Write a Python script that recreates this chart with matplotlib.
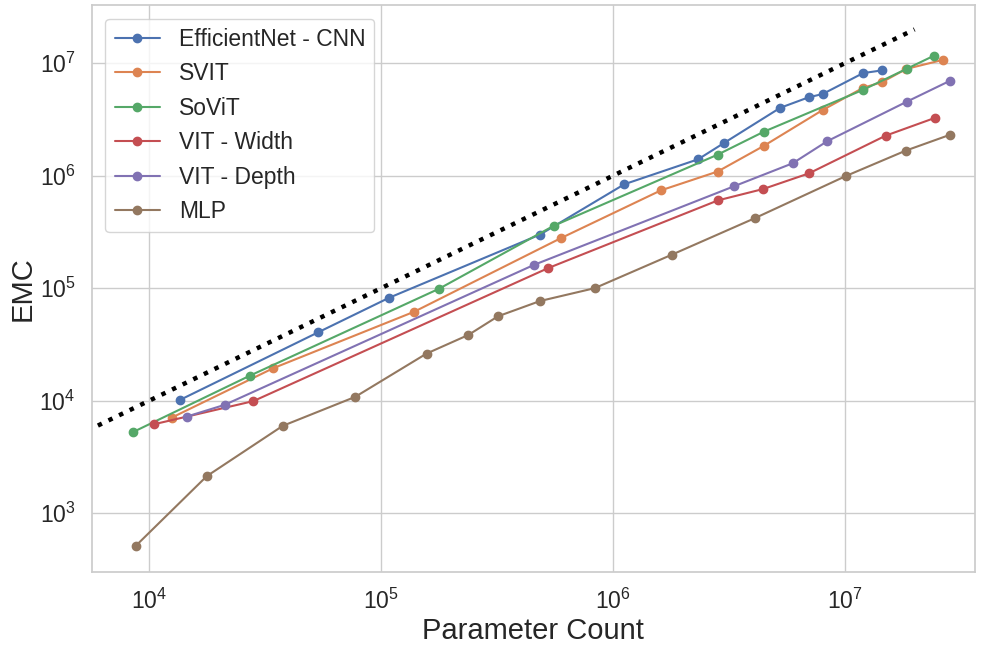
import numpy as np
import matplotlib
matplotlib.use("Agg")
import matplotlib.pyplot as plt
import seaborn as sns

# values (log-log)
effnet_x = [1.35e4, 5.35e4, 1.08e5, 4.85e5, 1.12e6, 2.33e6, 3.02e6, 5.27e6, 6.98e6, 8.03e6, 1.20e7, 1.45e7]
effnet_y = [1.01e4, 4.05e4, 8.2e4, 3.0e5, 8.4e5, 1.40e6, 1.96e6, 4.02e6, 4.98e6, 5.33e6, 8.18e6, 8.65e6]

svit_x = [1.25e4, 3.42e4, 1.39e5, 5.95e5, 1.61e6, 2.83e6, 4.47e6, 8.03e6, 1.20e7, 1.45e7, 1.84e7, 2.64e7]
svit_y = [7.06e3, 1.94e4, 6.18e4, 2.78e5, 7.41e5, 1.09e6, 1.84e6, 3.84e6, 6.05e6, 6.80e6, 8.9e6, 1.07e7]

sovit_x = [8.47e3, 2.72e4, 1.78e5, 5.57e5, 2.83e6, 4.47e6, 1.20e7, 1.85e7, 2.43e7]
sovit_y = [5.23e3, 1.67e4, 9.9e4, 3.6e5, 1.54e6, 2.46e6, 5.81e6, 8.93e6, 1.17e7]

vitw_x = [1.05e4, 2.81e4, 5.26e5, 2.84e6, 4.45e6, 7.01e6, 1.50e7, 2.44e7]
vitw_y = [6.17e3, 9.9e3, 1.51e5, 6.04e5, 7.62e5, 1.05e6, 2.27e6, 3.26e6]

vitd_x = [1.45e4, 2.11e4, 4.56e5, 3.33e6, 5.96e6, 8.41e6, 1.85e7, 2.84e7]
vitd_y = [7.21e3, 9.16e3, 1.61e5, 8.06e5, 1.29e6, 2.03e6, 4.55e6, 6.98e6]

mlp_x = [8.73e3, 1.77e4, 3.76e4, 7.73e4, 1.57e5, 2.38e5, 3.19e5, 4.85e5, 8.34e5, 1.80e6, 4.08e6, 1.01e7, 1.83e7, 2.84e7]
mlp_y = [5.1e2, 2.13e3, 5.96e3, 1.08e4, 2.62e4, 3.84e4, 5.62e4, 7.69e4, 1.0e5, 1.99e5, 4.18e5, 9.93e5, 1.67e6, 2.31e6]

# reference line EMC = parameter count
ref_x = [6e3, 2e7]

sns.set_theme(style="whitegrid", font_scale=1.5)
plt.rcParams['font.family'] = ['Liberation Sans', 'DejaVu Sans']

fig = plt.figure(figsize=(9.84, 6.45), dpi=100)
ax = fig.add_axes([0.0931, 0.1132, 0.8978, 0.879])

series = [
    ("EfficientNet - CNN", effnet_x, effnet_y),
    ("SVIT", svit_x, svit_y),
    ("SoViT", sovit_x, sovit_y),
    ("VIT - Width", vitw_x, vitw_y),
    ("VIT - Depth", vitd_x, vitd_y),
    ("MLP", mlp_x, mlp_y),
]
for label, xs, ys in series:
    ax.plot(xs, ys, marker='o', label=label)

ax.plot(ref_x, ref_x, color='black', linestyle=':', linewidth=3.2)

ax.set_xscale('log')
ax.set_yscale('log')
ax.set_xlim(10**3.751, 10**7.562)
ax.set_ylim(10**2.476, 10**7.518)
ax.tick_params(axis='x', pad=plt.rcParams['xtick.major.pad'] + 2.5)
ax.tick_params(axis='y', pad=plt.rcParams['ytick.major.pad'] + 2)
ax.set_xlabel("Parameter Count", fontsize=21, labelpad=2)
ax.set_ylabel("EMC", fontsize=21, labelpad=2)
ax.legend(loc='upper left', borderaxespad=0.6)

fig.savefig("out.png", dpi=100)
